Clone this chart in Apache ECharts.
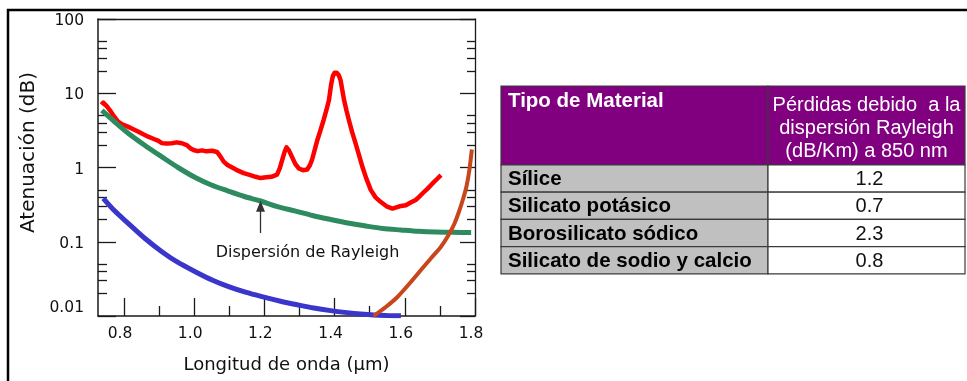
<!DOCTYPE html>
<html><head><meta charset="utf-8">
<script src="https://cdn.jsdelivr.net/npm/echarts@6/dist/echarts.min.js"></script>
<style>html,body{margin:0;padding:0;background:#fff}#c{width:967px;height:381px}</style>
</head><body><div id="c"></div>
<script>
// ---- axis ticks / labels ----
const xTickValues = [0.8, 1.0, 1.2, 1.4, 1.6, 1.8];
const xMinorTickValues = [0.9, 1.1, 1.3, 1.5, 1.7];
const yTickValues = [0.01, 0.1, 1, 10, 100];
const yMinorTickValues = [0.02, 0.03, 0.04, 0.05, 0.2, 0.3, 0.4, 0.5, 2, 3, 4, 5, 20, 30, 40, 50];

// ---- measured attenuation (red) ----
const measuredX = [0.736,0.741,0.745,0.752,0.760,0.769,0.776,0.783,0.795,0.811,0.825,0.840,0.855,0.869,0.885,0.897,0.908,0.920,0.936,0.950,0.965,0.979,0.990,0.998,1.010,1.022,1.035,1.051,1.065,1.075,1.084,1.095,1.103,1.120,1.141,1.160,1.175,1.189,1.205,1.220,1.236,1.244,1.251,1.258,1.263,1.270,1.279,1.288,1.298,1.310,1.322,1.330,1.336,1.343,1.351,1.360,1.369,1.377,1.384,1.390,1.395,1.400,1.406,1.412,1.417,1.422,1.427,1.434,1.441,1.450,1.460,1.470,1.479,1.490,1.503,1.516,1.531,1.548,1.565,1.585,1.603,1.618,1.631,1.640,1.651,1.665,1.679,1.692,1.703];
const measuredY = [7.0,7.5,7.2,6.6,5.9,5.1,4.6,4.15,3.8,3.55,3.3,3.05,2.8,2.6,2.42,2.3,2.13,2.1,2.12,2.18,2.12,2.0,1.8,1.72,1.66,1.70,1.65,1.68,1.62,1.40,1.20,1.08,1.03,0.93,0.84,0.79,0.75,0.72,0.74,0.75,0.80,0.98,1.28,1.65,1.87,1.70,1.38,1.12,0.97,0.92,0.94,1.08,1.28,1.7,2.35,3.2,4.4,6.0,8.1,13,17,18.9,18.9,17.5,15,11,8.1,5.8,4.3,3.0,2.1,1.45,1.03,0.72,0.50,0.40,0.345,0.30,0.28,0.30,0.31,0.34,0.365,0.40,0.45,0.52,0.61,0.70,0.79];

// ---- Rayleigh scattering (green) ----
const rayleighX = [0.737,0.774,0.811,0.860,0.909,0.954,1.003,1.049,1.097,1.143,1.189,1.237,1.289,1.337,1.389,1.437,1.489,1.537,1.589,1.640,1.689,1.737,1.789];
const rayleighY = [5.86,4.10,2.92,1.98,1.38,1.00,0.733,0.581,0.482,0.407,0.354,0.298,0.259,0.226,0.1995,0.179,0.163,0.151,0.144,0.138,0.135,0.134,0.133];

// ---- UV absorption (blue) ----
const uvX = [0.741,0.774,0.812,0.860,0.908,0.954,1.003,1.051,1.098,1.146,1.193,1.246,1.294,1.341,1.389,1.436,1.474,1.512,1.549,1.589];
const uvY = [0.385,0.259,0.177,0.1106,0.0735,0.0526,0.0395,0.0305,0.0248,0.0209,0.0182,0.0158,0.01415,0.0128,0.01182,0.0111,0.01064,0.01031,0.01016,0.01006];

// ---- IR absorption (orange) ----
const irX = [1.511,1.546,1.579,1.611,1.646,1.674,1.703,1.723,1.741,1.754,1.766,1.776,1.784,1.791];
const irY = [0.0100,0.01322,0.01803,0.02657,0.04164,0.05948,0.0858,0.1196,0.1734,0.2516,0.3765,0.5634,0.925,1.748];

// ---- annotation ----
const annotationText = 'Dispersión de Rayleigh';
const annotationArrow = [[1.189, 0.131], [1.189, 0.30]];
const annotationPos = [1.323, 0.0715];

// ---- table ----
const tableHeaders = ['Tipo de Material', 'Pérdidas debido  a la\ndispersión Rayleigh\n(dB/Km) a 850 nm'];
const materials = ['Sílice', 'Silicato potásico', 'Borosilicato sódico', 'Silicato de sodio y calcio'];
const rayleighLoss850 = ['1.2', '0.7', '2.3', '0.8'];

const zip = (xs, ys) => xs.map((x, i) => [x, ys[i]]);

const CF = 'DejaVu Sans';
const TF = '"Liberation Sans", Arial, sans-serif';
const XMIN = 0.726, XMAX = 1.8, YMIN = 0.01, YMAX = 100;
const axisColor = '#1a1a1a';

function table() {
  const L = 501, S = 768, R = 965, T = 86, HH = 79, RH = 27.2;
  const border = '#3a3a3a';
  const els = [];
  els.push({type:'rect', shape:{x:L, y:T, width:S-L, height:HH}, style:{fill:'#800080', stroke:border, lineWidth:1.2}});
  els.push({type:'rect', shape:{x:S, y:T, width:R-S, height:HH}, style:{fill:'#800080', stroke:border, lineWidth:1.2}});
  els.push({type:'text', x:L+7, y:T+15, style:{text:tableHeaders[0], fill:'#fff', font:'bold 20.5px ' + TF, align:'left', verticalAlign:'middle'}});
  els.push({type:'text', x:(S+R)/2, y:T+42, style:{text:tableHeaders[1], fill:'#fff', font:'20px ' + TF, align:'center', verticalAlign:'middle', lineHeight:23}});
  materials.forEach((m, i) => {
    const y = T + HH + i*RH;
    els.push({type:'rect', shape:{x:L, y:y, width:S-L, height:RH}, style:{fill:'#c0c0c0', stroke:border, lineWidth:1.2}});
    els.push({type:'rect', shape:{x:S, y:y, width:R-S, height:RH}, style:{fill:'#fff', stroke:border, lineWidth:1.2}});
    els.push({type:'text', x:L+7, y:y+RH/2+1, style:{text:m, fill:'#000', font:'bold 20.5px ' + TF, align:'left', verticalAlign:'middle'}});
    els.push({type:'text', x:(S+R)/2+3, y:y+RH/2+1, style:{text:rayleighLoss850[i], fill:'#111', font:'20px ' + TF, align:'center', verticalAlign:'middle'}});
  });
  return els;
}

const chart = echarts.init(document.getElementById('c'), null, {renderer:'canvas'});
const lineCommon = {type:'line', showSymbol:false, symbol:'none', animation:false, silent:true, clip:true};
chart.setOption({
  animation:false,
  backgroundColor:'#fff',
  grid:{left:98, top:19, width:377, height:297, containLabel:false},
  xAxis:[
    {type:'value', min:XMIN, max:XMAX, position:'bottom',
     axisLine:{show:true, onZero:false, lineStyle:{color:axisColor, width:1.5}},
     axisTick:{show:true, inside:true, length:18, customValues:xTickValues, lineStyle:{color:axisColor, width:1.3}},
     axisLabel:{show:true, customValues:xTickValues, formatter:v => Number(v).toFixed(1), fontFamily:CF, fontSize:15.5, color:'#111', margin:10, padding:[0,8,0,0]},
     splitLine:{show:false},
     name:'Longitud de onda (\u03bcm)', nameLocation:'middle', nameGap:40,
     nameTextStyle:{fontFamily:CF, fontSize:18, color:'#111'}},
    {type:'value', min:XMIN, max:XMAX, position:'bottom',
     axisLine:{show:false}, axisLabel:{show:false}, splitLine:{show:false},
     axisTick:{show:true, inside:true, length:10, customValues:xMinorTickValues, lineStyle:{color:axisColor, width:1.3}}},
    {type:'value', min:XMIN, max:XMAX, position:'top',
     axisLine:{show:true, onZero:false, lineStyle:{color:axisColor, width:1.3}},
     axisTick:{show:false}, axisLabel:{show:false}, splitLine:{show:false}}
  ],
  yAxis:[
    {type:'log', logBase:10, min:YMIN, max:YMAX, position:'left',
     axisLine:{show:true, onZero:false, lineStyle:{color:axisColor, width:1.5}},
     axisTick:{show:true, inside:true, length:18, customValues:yTickValues, lineStyle:{color:axisColor, width:1.3}},
     axisLabel:{show:true, customValues:yTickValues, fontFamily:CF, fontSize:15.5, color:'#111', margin:14,
       formatter:v => { const s = String(+Number(v).toPrecision(3)); return v <= 0.0100001 ? '{low|' + s + '}' : '{n|' + s + '}'; },
       rich:{low:{fontFamily:CF, fontSize:15.5, color:'#111', padding:[0,0,16,0]},
             n:{fontFamily:CF, fontSize:15.5, color:'#111', padding:[4,0,0,0]}}},
     splitLine:{show:false},
     name:'Atenuación (dB)', nameLocation:'middle', nameGap:59, nameRotate:90,
     nameTextStyle:{fontFamily:CF, fontSize:20, color:'#111', padding:[0,0,0,30]}},
    {type:'log', logBase:10, min:YMIN, max:YMAX, position:'left',
     axisLine:{show:false}, axisLabel:{show:false}, splitLine:{show:false},
     axisTick:{show:true, inside:true, length:9, customValues:yMinorTickValues, lineStyle:{color:axisColor, width:1.3}}},
    {type:'log', logBase:10, min:YMIN, max:YMAX, position:'right',
     axisLine:{show:true, onZero:false, lineStyle:{color:axisColor, width:1.3}},
     axisTick:{show:true, inside:true, length:15, customValues:yTickValues, lineStyle:{color:axisColor, width:1.3}},
     axisLabel:{show:false}, splitLine:{show:false}},
    {type:'log', logBase:10, min:YMIN, max:YMAX, position:'right',
     axisLine:{show:false}, axisLabel:{show:false}, splitLine:{show:false},
     axisTick:{show:true, inside:true, length:8, customValues:yMinorTickValues, lineStyle:{color:axisColor, width:1.3}}}
  ],
  series:[
    Object.assign({}, lineCommon, {name:'Atenuación medida', data:zip(measuredX, measuredY),
      lineStyle:{color:'#ff0000', width:4.5, join:'round'}}),
    Object.assign({}, lineCommon, {name:'Dispersión de Rayleigh', data:zip(rayleighX, rayleighY), smooth:0.3,
      lineStyle:{color:'#2e8b5f', width:5},
      markLine:{silent:true, animation:false, symbol:['none','triangle'], symbolSize:[9,11],
        label:{show:false}, lineStyle:{color:'#333', width:1.3, type:'solid'},
        data:[[{coord:annotationArrow[0]}, {coord:annotationArrow[1]}]]},
      markPoint:{silent:true, animation:false, symbol:'circle', symbolSize:0,
        label:{show:true, position:'inside', formatter:annotationText, fontFamily:CF, fontSize:16, color:'#111'},
        data:[{coord:annotationPos}]}}),
    Object.assign({}, lineCommon, {name:'Absorción UV', data:zip(uvX, uvY), smooth:0.3,
      lineStyle:{color:'#3a36cc', width:5}}),
    Object.assign({}, lineCommon, {name:'Absorción IR', data:zip(irX, irY), smooth:0.3,
      lineStyle:{color:'#c8461c', width:4}})
  ],
  graphic:[
    {type:'rect', shape:{x:8, y:10, width:1000, height:420}, style:{fill:'none', stroke:'#000', lineWidth:2.5}, silent:true, z:100}
  ].concat(table())
});
</script></body></html>
